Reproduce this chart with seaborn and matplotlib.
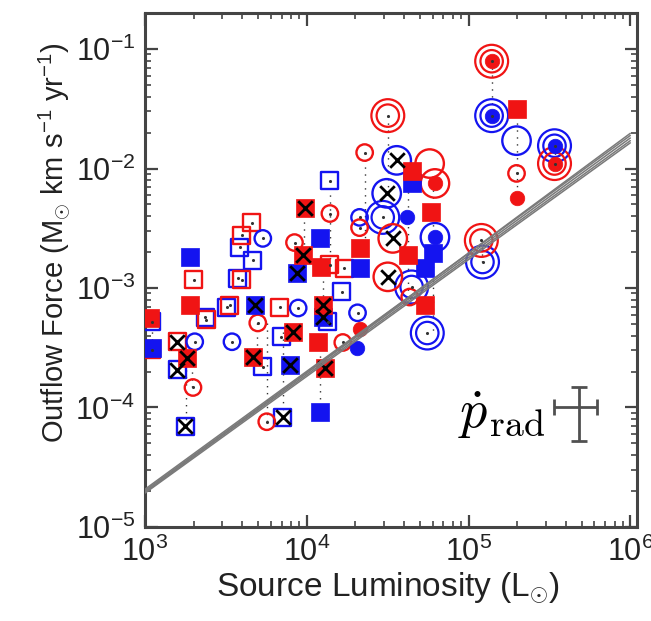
import numpy as np
import pandas as pd
import matplotlib
matplotlib.use("Agg")
import matplotlib.pyplot as plt
import seaborn as sns
from matplotlib.ticker import LogLocator, NullFormatter

sns.set_style("ticks")
plt.rcParams["font.family"] = ["Liberation Sans", "DejaVu Sans"]
plt.rcParams["mathtext.fontset"] = "custom"
plt.rcParams["mathtext.rm"] = "Liberation Sans"
plt.rcParams["mathtext.it"] = "Liberation Sans:italic"
plt.rcParams["mathtext.bf"] = "Liberation Sans:bold"

# ---------------- data (L in Lsun, F in Msun km/s/yr) ----------------
# filled squares
fs_L = [1.07e3, 1.9e3, 1.98e5, 4.5e4, 5.9e4, 4.2e4, 5.35e4, 1.17e4, 1.23e4, 2.12e4,
        1.1e3, 1.9e3, 4.45e4, 6.0e4, 5.35e4, 1.2e4, 1.2e4, 2.12e4]
fs_F = [5.6e-4, 7.2e-4, 3.16e-2, 9.6e-3, 4.3e-3, 1.9e-3, 7.2e-4, 3.55e-4, 1.5e-3, 2.15e-3,
        3.16e-4, 1.81e-3, 7.5e-3, 1.96e-3, 1.46e-3, 9.1e-5, 2.6e-3, 1.46e-3]
fs_C = ["r"] * 10 + ["b"] * 8

# filled squares with cross
fx_L = [1.82e3, 4.65e3, 8.2e3, 1.26e4, 1.29e4, 9.45e3, 9.7e3,
        4.77e3, 7.85e3, 1.26e4, 8.7e3]
fx_F = [2.6e-4, 2.66e-4, 4.3e-4, 7.2e-4, 2.15e-4, 1.9e-3, 4.7e-3,
        7.2e-4, 2.28e-4, 5.7e-4, 1.33e-3]
fx_C = ["r"] * 7 + ["b"] * 4

# open squares
os_L = [2.0e3, 2.4e3, 3.35e3, 6.8e3, 3.97e3, 4.58e3, 3.97e3, 1.39e4, 1.71e4, 1.1e3,
        1.1e3, 2.35e3, 3.2e3, 3.86e3, 4.65e3, 3.75e3, 1.39e4, 1.64e4, 5.35e3, 6.97e3, 1.35e4]
os_F = [1.17e-3, 5.4e-4, 7.2e-4, 6.9e-4, 2.77e-3, 3.5e-3, 1.17e-3, 1.56e-3, 1.46e-3, 3.05e-4,
        5.2e-4, 5.7e-4, 6.9e-4, 2.2e-3, 1.7e-3, 1.21e-3, 7.9e-3, 9.3e-4, 2.2e-4, 3.9e-4, 5.2e-4]
os_C = ["r"] * 10 + ["b"] * 11

# open squares with cross
ox_L = [1.58e3, 1.58e3, 1.77e3, 7.1e3]
ox_F = [3.55e-4, 2.07e-4, 6.95e-5, 8.3e-5]
ox_C = ["r", "b", "b", "b"]

# open circles
oc_L = [1.98e5, 2.28e4, 1.98e3, 4.98e3, 1.39e4, 2.12e4, 8.4e3, 5.66e3, 1.67e4, 4.33e4,
        2.03e3, 5.35e3, 8.85e3, 3.45e3, 2.12e4, 2.06e4]
oc_F = [9.1e-3, 1.36e-2, 1.47e-4, 5.1e-4, 4.2e-3, 3.2e-3, 2.4e-3, 7.6e-5, 3.5e-4, 8.4e-4,
        3.55e-4, 2.6e-3, 6.8e-4, 3.55e-4, 3.9e-3, 6.2e-4]
oc_C = ["r"] * 10 + ["b"] * 6

# small filled circles
fc_L = [1.39e5, 6.2e4, 3.4e5, 2.12e4, 1.98e5, 1.39e5, 3.4e5, 6.2e4, 4.14e4, 2.04e4]
fc_F = [7.9e-2, 7.5e-3, 1.1e-2, 4.5e-4, 5.7e-3, 2.77e-2, 1.55e-2, 2.66e-3, 3.9e-3, 3.16e-4]
fc_C = ["r"] * 5 + ["b"] * 5

# single rings around markers
r1_L = [6.2e4, 5.75e4, 1.98e5, 6.2e4, 3.6e4, 3.12e4, 3.4e4, 3.17e4]
r1_F = [7.5e-3, 1.1e-2, 1.71e-2, 2.66e-3, 1.17e-2, 6.2e-3, 2.6e-3, 1.24e-3]
r1_C = ["r", "r", "b", "b", "b", "b", "r", "r"]

# double rings
r2_L = [1.39e5, 3.4e5, 1.2e5, 3.17e4, 1.39e5, 3.4e5, 1.22e5, 2.95e4, 4.45e4, 5.56e4]
r2_F = [7.9e-2, 1.1e-2, 2.5e-3, 2.77e-2, 2.77e-2, 1.55e-2, 1.65e-3, 3.9e-3, 1.02e-3, 4.2e-4]
r2_C = ["r"] * 4 + ["b"] * 6

# crosses on ringed markers
rx_L = [3.6e4, 3.12e4, 3.4e4, 3.17e4]
rx_F = [1.17e-2, 6.2e-3, 2.6e-3, 1.24e-3]

# dotted links between red and blue lobes of a source
lk_L = [1.39e5, 1.98e5, 2.28e4, 3.17e4, 1.39e4, 9.6e3, 1.26e4, 1.8e3, 7.1e3, 5.66e3,
        1.2e4, 6.0e4, 3.4e5, 1.21e5, 1.1e3, 4.2e4, 1.95e3, 4.9e3]
lk_F1 = [7.9e-2, 3.16e-2, 1.36e-2, 2.77e-2, 7.9e-3, 4.7e-3, 1.5e-3, 3.55e-4, 4.3e-4, 5.1e-4,
         3.55e-4, 7.5e-3, 1.55e-2, 2.5e-3, 5.6e-4, 1.1e-2, 2.6e-4, 5.1e-4]
lk_F2 = [2.77e-2, 5.7e-3, 2.2e-3, 6.3e-3, 1.56e-3, 1.33e-3, 5.7e-4, 6.95e-5, 8.3e-5, 7.6e-5,
         9.1e-5, 4.2e-4, 1.1e-2, 1.65e-3, 3.05e-4, 8.4e-4, 1.47e-4, 2.66e-4]

# radiation momentum (L/c) bundle
rad_L = [1.0e3, 1.0e6]
rad_F_lo = [1.92e-5, 1.97e-5, 2.02e-5, 2.07e-5, 1.95e-5]
rad_F_hi = [1.64e-2, 1.71e-2, 1.80e-2, 1.89e-2, 1.97e-2]

# representative error bar
err_L, err_F = 4.8e5, 1.0e-4
err_Lfrac, err_Ffrac = 0.30, 0.48

PAL = {"r": "#f01414", "b": "#1414f0"}

# ---------------- figure ----------------
fig = plt.figure(figsize=(6.51, 6.21), dpi=100)
ax = fig.add_axes([0.2227, 0.1514, 0.7558, 0.8276])
ax.set_xscale("log")
ax.set_yscale("log")


def frame(L, F, C):
    return pd.DataFrame({"L": L, "F": F, "lobe": C})


def draw(L, F, C, marker, s, filled, lw=1.5, z=3):
    df = frame(L, F, C)
    for lobe, sub in df.groupby("lobe"):
        col = PAL[lobe]
        if filled:
            sns.scatterplot(data=sub, x="L", y="F", ax=ax, marker=marker, s=s,
                            color=col, edgecolor=col, linewidth=0.5,
                            legend=False, zorder=z)
        else:
            sns.scatterplot(data=sub, x="L", y="F", ax=ax, marker=marker, s=s,
                            color=col, facecolor="none", edgecolor=col,
                            linewidth=lw, legend=False, zorder=z)


# dotted links
for L, f1, f2 in zip(lk_L, lk_F1, lk_F2):
    ax.plot([L, L], [f1, f2], color="#333333", lw=1.0, ls=(0, (1, 4)), zorder=1)

draw(r2_L, r2_F, r2_C, "o", 560, False, lw=1.6, z=2)
draw(r2_L, r2_F, r2_C, "o", 260, False, lw=1.6, z=2)
draw(r1_L, r1_F, r1_C, "o", 420, False, lw=1.7, z=2)
draw(os_L, os_F, os_C, "s", 150, False, lw=1.7, z=3)
draw(ox_L, ox_F, ox_C, "s", 150, False, lw=1.7, z=3)
draw(oc_L, oc_F, oc_C, "o", 140, False, lw=1.7, z=3)
draw(fs_L, fs_F, fs_C, "s", 150, True, z=4)
draw(fx_L, fx_F, fx_C, "s", 150, True, z=4)
draw(fc_L, fc_F, fc_C, "o", 110, True, z=4)

# crosses
crossL = fx_L + ox_L + rx_L
crossF = fx_F + ox_F + rx_F
sns.scatterplot(x=crossL, y=crossF, ax=ax, marker="x", s=110, color="black",
                linewidth=2.0, legend=False, zorder=5)
# center dots
dotL = oc_L + os_L + r2_L
dotF = oc_F + os_F + r2_F
sns.scatterplot(x=dotL, y=dotF, ax=ax, marker="o", s=5, color="#333333",
                linewidth=0, legend=False, zorder=5)

# L/c bundle
for lo, hi in zip(rad_F_lo, rad_F_hi):
    sns.lineplot(x=rad_L, y=[lo, hi], ax=ax, color="#7a7a7a", lw=1.1, zorder=6,
                 legend=False)

# error cross
ax.errorbar([err_L], [err_F], xerr=[[err_L * err_Lfrac], [err_L * err_Lfrac]],
            yerr=[[err_F * err_Ffrac], [err_F * err_Ffrac]], fmt="none",
            ecolor="#505050", elinewidth=2.0, capsize=5.5, capthick=2.0, zorder=7)
ax.text(0.813, 0.193, r"$\dot{p}_{\rm rad}$", transform=ax.transAxes, ha="right",
        va="baseline", fontsize=39, math_fontfamily="cm", color="black", zorder=7)

ax.set_xlim(1e3, 1.1e6)
ax.set_ylim(1e-5, 0.2)
ax.xaxis.set_major_locator(LogLocator(base=10, numticks=10))
ax.yaxis.set_major_locator(LogLocator(base=10, numticks=10))
ax.xaxis.set_minor_locator(LogLocator(base=10, subs=np.arange(2, 10), numticks=20))
ax.yaxis.set_minor_locator(LogLocator(base=10, subs=np.arange(2, 10), numticks=20))
ax.xaxis.set_minor_formatter(NullFormatter())
ax.yaxis.set_minor_formatter(NullFormatter())

ax.tick_params(which="both", direction="in", top=True, right=True,
               color="#444444", labelsize=22, labelcolor="#222222")
ax.tick_params(which="major", length=9, width=1.6, pad=7)
ax.tick_params(which="minor", length=4.5, width=1.2)
for sp in ax.spines.values():
    sp.set_linewidth(2.2)
    sp.set_color("#444444")

ax.set_xlabel(r"Source Luminosity (L$_{\odot}$)", fontsize=24, color="#222222",
              labelpad=2)
ax.set_ylabel(r"Outflow Force (M$_{\odot}$ km s$^{-1}$ yr$^{-1}$)", fontsize=21,
              color="#222222", labelpad=2)
ax.xaxis.label.set_x(0.494)
ax.yaxis.label.set_y(0.553)

fig.savefig("out.png", dpi=100)
